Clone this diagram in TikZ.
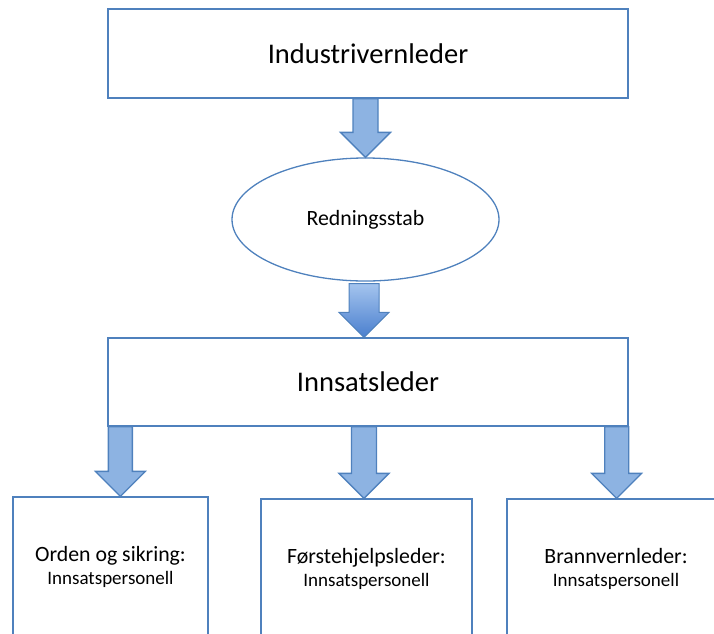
\documentclass[tikz,border=0pt]{standalone}
\usepackage{fontspec}
\setmainfont{Carlito}
\usetikzlibrary{shapes.geometric,calc}
\definecolor{lineblue}{HTML}{4F81BD}
\definecolor{arrowfill}{HTML}{8DB3E2}
\definecolor{gradtop}{HTML}{A4C4EE}
\definecolor{gradbot}{HTML}{4A7FCE}
\tikzset{
  box/.style={draw=lineblue, line width=1.3pt, rectangle, inner sep=0pt, fill=white},
  bigtext/.style={font=\fontsize{28.5}{34}\selectfont},
  midtext/.style={font=\fontsize{21.8}{26}\selectfont},
  blockarrow/.style={draw=lineblue, line width=1.3pt, fill=arrowfill, line join=miter},
  gradarrow/.style={draw=lineblue, line width=1pt, top color=gradtop, bottom color=gradbot, line join=miter},
  role/.style={box, minimum height=140pt, align=center, font=\fontsize{21.8}{23}\selectfont},
}
\newcommand{\sub}{\fontsize{19}{23}\selectfont}
\newcommand{\barrowpath}[4]{%
  \path[#1] let \p1=(#2), \p2=(#3) in
    (\x2-#4,\y1) -- (\x2+#4,\y1) -- (\x2+#4,\y2+25pt) -- (\x2+25pt,\y2+25pt)
    -- (\x2,\y2) -- (\x2-25pt,\y2+25pt) -- (\x2-#4,\y2+25pt) -- cycle;}
\begin{document}
\begin{tikzpicture}[x=1pt,y=-1pt]
\useasboundingbox (0,0) rectangle (714,633);
\clip (0,0) rectangle (714,633);
\node[box, bigtext, minimum width=520pt, minimum height=89pt] (top) at (368,53.5) {Industrivernleder};
\node[ellipse, draw=lineblue, line width=1.3pt, inner sep=0pt, minimum width=267pt, minimum height=123pt, midtext] (ell) at (365.5,219.5) {Redningsstab};
\node[box, bigtext, minimum width=520pt, minimum height=88pt] (inn) at (368,382) {Innsatsleder};
\node[role, minimum width=195pt] (orden) at (110.5,567) {Orden og sikring:\\\sub Innsatspersonell};
\node[role, minimum width=211pt] (forst) at (366.5,569) {Førstehjelpsleder:\\\sub Innsatspersonell};
\node[role, minimum width=218pt] (brann) at (616,569) {Brannvernleder:\\\sub Innsatspersonell};
% connectors
\barrowpath{blockarrow}{top.south}{ell.north}{12.5pt}
\coordinate (a2s) at ($(ell.south)+(0,2)$);
\coordinate (a2t) at ($(inn.north)+(-4,0)$);
\barrowpath{gradarrow}{a2s}{a2t}{15pt}
\coordinate (l1) at ($(inn.south west)+(13,0)$);
\barrowpath{blockarrow}{l1}{l1 |- orden.north}{12pt}
\coordinate (m1) at ($(inn.south)+(-4,0)$);
\barrowpath{blockarrow}{m1}{m1 |- forst.north}{12.5pt}
\coordinate (r1) at ($(inn.south east)+(-12,0)$);
\barrowpath{blockarrow}{r1}{r1 |- brann.north}{12pt}
\end{tikzpicture}
\end{document}
